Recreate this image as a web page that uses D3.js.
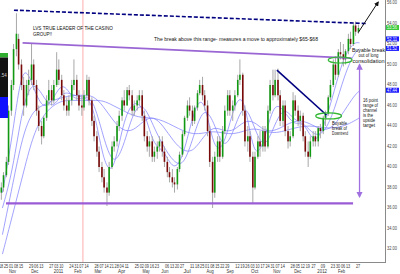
<!DOCTYPE html>
<html>
<head>
<meta charset="utf-8">
<script src="https://cdn.jsdelivr.net/npm/d3@7"></script>
<style>
body { margin: 0; background: #fff; }
svg { display: block; font-family: "Liberation Sans", Arial, sans-serif; }
</style>
</head>
<body>
<script>
// ---- data ----
var startMonday = "2010-10-18";
var endDate = "2012-02-27";

// two candles per week (Mon-Wed, Thu-Fri): open, high, low, close
var candles = [
  [37.5,38.5,36.8,38.0],[38.0,39.5,37.6,39.2],
  [39.2,41,39,40.5],[40.5,46,40.2,45.5],
  [45.5,48.5,45,48],[48,52,47.5,51.5],
  [51.5,55,50.8,53],[52.5,53,49.5,50],
  [50,50.5,47.5,48],[48,48.8,45,46],
  [46,48.5,45.8,48],[48,49.5,47,48.5],
  [48.5,52,48,50],[50,50.5,47.5,48],
  [48,48.5,45,45.5],[45.5,46,43.5,44],
  [44,44.5,42.2,43],[43,45,42.8,44.8],
  [44.8,47,44.5,46.5],[46.5,48.5,46,47.5],
  [47.5,48,46,46.5],[46.5,48.5,46.2,48],
  [48,51.2,47.8,49.5],[49.5,50.5,48,48.5],
  [48.5,49,46.5,47],[47,47.5,45.5,46],
  [46,46.8,45,45.5],[45.5,47,45,46.5],
  [46.5,48.5,46,48],[48,50.5,47.5,48.5],
  [48.5,49,46.5,47],[47,47.5,45.5,46],
  [46,47,45,45.8],[45.8,47.5,45.5,47],
  [47,49,46.8,48.5],[48.5,48.8,46,46.5],
  [46.5,46.8,44,44.5],[44.5,45,42.5,43],
  [43,43.5,41,41.5],[41.5,42,39.5,40],
  [40,40.5,38.5,39],[39,39.8,37.5,38],
  [38,38.5,36.2,37.5],[37.5,40.5,37.2,40],
  [40,42.5,39.8,42],[42,43,41.5,42.5],
  [42.5,44.5,42,44],[44,45.5,43.5,45],
  [45,46.8,44.5,46.5],[46.5,47.5,45.5,46],
  [46,47.8,46,47.5],[47.5,48,46.5,47],
  [47,47.5,45,45.5],[45.5,46.5,45,46],
  [46,47,45.5,46.5],[46.5,47.5,46,47],
  [47,47.5,44.5,45],[45,45.5,42.5,43],
  [43,43.5,41.5,42],[42,43,41,42.5],
  [42.5,43,40.5,41],[41,42,40.5,41.5],
  [41.5,42.5,40.8,42],[42,43,41.5,42.5],
  [42.5,43,41,41.5],[41.5,42,40,40.5],
  [40.5,41,39,39.5],[39.5,40,38.5,39],
  [39,39.8,38,38.5],[38.5,39,37.5,38.3],
  [38.3,40,37.8,39.8],[39.8,41.5,39.5,41.2],
  [41.2,43.5,41,43.2],[43.2,45,43,44.8],
  [44.8,46.5,44.5,46],[46,46.8,45,45.5],
  [45.5,46,44,44.5],[44.5,46,44.2,45.8],
  [45.8,47.5,45.5,47.2],[47.2,48.5,47,48],
  [48,48.8,46.5,47],[47,47.5,45.5,46],
  [46,46.5,43,43.5],[43.5,44,40,40.5],
  [40.5,41,36,37.5],[37.5,41.5,37,41],
  [41,43,40.5,42.5],[42.5,43,40.5,41],
  [41,44,40.8,43.5],[43.5,46,43.2,45.5],
  [45.5,47.5,45,47],[47,47.5,45,45.5],
  [45.5,46.5,44.5,46],[46,47.5,45.5,47],
  [47,49,46.8,48.5],[48.5,50.5,48,49],
  [49,49.2,45,45.5],[45.5,46,42,42.5],
  [42.5,44,41.5,43],[43,43.5,40.5,41],
  [41,41.5,36.5,38],[38,41.5,37.8,41],
  [41,43,40.8,42.5],[42.5,43.5,41,42],
  [42,44,41.5,43.5],[43.5,44,41.5,42],
  [42,46,41.8,45.5],[45.5,48.5,45.2,48],
  [48,49.5,46.5,47],[47,49.5,46.8,48.5],
  [48.5,49.6,46.5,47],[47,47.5,44,44.5],
  [44.5,46.5,44,46],[46,46.5,43,43.5],
  [43.5,44,41.8,42.5],[42.5,43.5,42,43],
  [43,47.3,42.8,46.5],[46.5,47,45,45.5],
  [45.5,46,44,44.5],[44.5,45.5,43.5,45],
  [45,45.3,42.5,43],[43,43.5,41,41.5],
  [41.5,42.5,40,41],[41,43,40.8,42.5],
  [42.5,43.5,42,43],[43,43.5,42,42.5],
  [42.5,44,42,43.8],[43.8,44.2,42.8,43.5],
  [43.5,45,43.2,44.8],[44.8,45.5,44,45.2],
  [45.2,47,45,46.8],[46.8,48.5,46.5,48],
  [48,50.5,47.8,50],[50,50.8,48.5,49],
  [49,51.5,48.8,51.2],[51.2,52.2,50.5,51],
  [51,52,49.8,50.5],[50.5,51.5,50,51.3],
  [51.3,53,51,52.5],[52.5,53.2,51.5,52],
  [52,54,51.8,53.8],[53.8,54.2,52.8,53.2],
  [53.2,53.9,53,53.56]
];

// moving averages, read every two weeks (week index from startMonday)
var maWeeks = d3.range(0, 71, 2).concat([71]);
var maFast = [37.5,43,50.5,48,45.5,46.5,48.5,46.5,46.8,46.5,40.5,39,44.5,46.5,46,42,41.8,39.5,41,45.5,47.3,41.5,41.8,46,47.5,40.5,42.3,46.5,45.5,44,44.5,42,44,47.5,51,52.2,52.11];
var maMid = [36,39.5,46,48.5,47,45.5,47.5,47,46.8,46.8,43,40,41.8,45.5,46.3,44,42,40.5,40,43,46,44.5,41.5,43.5,46.5,44,41.5,44,46,44.5,44.3,43,43.3,45.5,49,51.2,51.52];
var maSlow = [33.4,38.2,43.1,45.5,46,46.5,46.8,47,47,47,46,44.5,43.5,43.5,44.5,45,44,42.5,41.5,41.5,43,44,43.5,43.5,44.5,44.5,43.5,43.5,44,44.5,44.5,44,43.5,44,45.5,47,47.44];
var maLong = [31.5,35.3,39.1,43,45,46,46.5,46.5,46.5,46.5,46.5,46,45.5,45,44.8,44.8,44.5,44,43.5,43.2,43.3,43.5,43.3,43.2,43.5,43.8,43.5,43.3,43.5,43.8,44,44,43.8,43.8,44,44.5,44.8];

var yTicks = [32,34,36,38,40,42,44,46,48,50,52,54,56];

var dayTicks = ["2010-10-18","2010-10-25","2010-11-01","2010-11-08","2010-11-15","2010-11-29","2010-12-06","2010-12-13",
  "2010-12-27","2011-01-03","2011-01-10","2011-01-24","2011-01-31","2011-02-07","2011-02-14","2011-02-28","2011-03-07",
  "2011-03-14","2011-03-21","2011-03-28","2011-04-04","2011-04-11","2011-04-25","2011-05-02","2011-05-09","2011-05-16",
  "2011-05-23","2011-06-06","2011-06-13","2011-06-20","2011-06-27","2011-07-11","2011-07-18","2011-07-25","2011-08-01",
  "2011-08-08","2011-08-15","2011-08-22","2011-08-29","2011-09-12","2011-09-19","2011-09-26","2011-10-03","2011-10-10",
  "2011-10-17","2011-10-24","2011-10-31","2011-11-07","2011-11-14","2011-11-28","2011-12-05","2011-12-12","2011-12-19",
  "2011-12-27","2012-01-09","2012-01-23","2012-01-30","2012-02-06","2012-02-13","2012-02-27"];
var monthTicks = [["2010-11-03","Nov"],["2010-12-04","Dec"],["2011-01-06","2011"],["2011-02-02","Feb"],["2011-03-02","Mar"],
  ["2011-04-04","Apr"],["2011-05-08","May"],["2011-06-03","Jun"],["2011-07-04","Jul"],["2011-08-05","Aug"],["2011-09-02","Sep"],
  ["2011-10-06","Oct"],["2011-11-06","Nov"],["2011-12-05","Dec"],["2012-01-08","2012"],["2012-02-04","Feb"]];

// last values shown in boxes on the right
var lastPrice = 53.56;
var maLabels = [52.11, 51.52, 47.44];

// drawn annotations (date, price)
var dashedTop = [["2010-11-05", 55.3], ["2012-03-09", 54.0]];
var resistance = [["2010-11-17", 52.1], ["2012-02-18", 50.63]];
var support = [["2010-10-25", 36.45], ["2012-02-20", 36.45]];
var downtrend = [["2011-11-06", 49.46], ["2012-01-14", 45.07]];
var breakPoints = [["2012-01-17", 44.98], ["2012-02-02", 50.44]];
var targetArrow = [["2012-02-27", 53.1], ["2012-03-26", 56.1]];
var rangeArrow = [["2012-02-29", 50.0], ["2012-02-29", 37.1]];
var markerDate = "2011-02-09";

// ---- chart ----
var width = 400, height = 274;
var plotRight = 385, plotBottom = 262;
var parseDate = d3.timeParse("%Y-%m-%d");
var start = parseDate(startMonday);

var x = d3.scaleTime().domain([start, parseDate(endDate)]).range([1, 358.1]);
var y = d3.scaleLinear().domain([32, 56]).range([249, 3]);

function weekDate(w, days) {
  return d3.timeHour.offset(start, Math.round((w * 7 + days) * 24));
}

var data = candles.map(function (c, i) {
  return {date: weekDate(Math.floor(i / 2), i % 2 ? 3.5 : 0.5), o: c[0], h: c[1], l: c[2], c: c[3]};
});

var svg = d3.select("body").append("svg")
  .attr("width", width)
  .attr("height", height);

svg.append("rect").attr("width", width).attr("height", height).attr("fill", "#fff");

var defs = svg.append("defs");
defs.append("clipPath").attr("id", "plot")
  .append("rect").attr("width", plotRight).attr("height", plotBottom);

function marker(id, color) {
  defs.append("marker").attr("id", id)
    .attr("viewBox", "0 0 10 10").attr("refX", 8).attr("refY", 5)
    .attr("markerWidth", 5).attr("markerHeight", 5)
    .attr("orient", "auto-start-reverse")
    .append("path").attr("d", "M0,0L10,5L0,10z").attr("fill", color);
}
marker("arrBlack", "#111");
marker("arrPurple", "#a070e0");

var plot = svg.append("g").attr("clip-path", "url(#plot)");

// pink date marker
plot.append("line")
  .attr("x1", x(parseDate(markerDate))).attr("x2", x(parseDate(markerDate)))
  .attr("y1", 0).attr("y2", plotBottom)
  .attr("stroke", "#ffadad").attr("stroke-width", 1);

// moving averages
var maLine = d3.line()
  .x(function (d) { return x(weekDate(d[0], 2)); })
  .y(function (d) { return y(d[1]); })
  .curve(d3.curveBasis);

[maFast, maMid, maSlow, maLong].forEach(function (s) {
  plot.append("path")
    .datum(maWeeks.map(function (w, i) { return [w, s[i]]; }))
    .attr("d", maLine)
    .attr("fill", "none")
    .attr("stroke", "#7f7fff")
    .attr("stroke-width", 0.8)
    .attr("opacity", 0.9);
});

// candles
var cg = plot.selectAll(".candle").data(data).enter().append("g").attr("class", "candle");
cg.append("line")
  .attr("x1", function (d) { return x(d.date); })
  .attr("x2", function (d) { return x(d.date); })
  .attr("y1", function (d) { return y(d.h); })
  .attr("y2", function (d) { return y(d.l); })
  .attr("stroke", "#a8a8a8").attr("stroke-width", 1);
cg.append("rect")
  .attr("x", function (d) { return x(d.date) - 0.8; })
  .attr("width", 1.6)
  .attr("y", function (d) { return y(Math.max(d.o, d.c)); })
  .attr("height", function (d) { return Math.max(1, Math.abs(y(d.o) - y(d.c))); })
  .attr("fill", function (d) { return d.c >= d.o ? "#119911" : "#7a0a0a"; });

// trend lines
function seg(pts, color, w, dash) {
  return plot.append("line")
    .attr("x1", x(parseDate(pts[0][0]))).attr("y1", y(pts[0][1]))
    .attr("x2", x(parseDate(pts[1][0]))).attr("y2", y(pts[1][1]))
    .attr("stroke", color).attr("stroke-width", w)
    .attr("stroke-dasharray", dash || null);
}
seg(dashedTop, "#000080", 1.6, "4,2");
seg(resistance, "#9a66d4", 1.8);
seg(support, "#9a5cd6", 2.2);
seg(downtrend, "#000080", 1.6);

plot.selectAll(".brk").data(breakPoints).enter().append("ellipse")
  .attr("cx", function (d) { return x(parseDate(d[0])); })
  .attr("cy", function (d) { return y(d[1]); })
  .attr("rx", function (d, i) { return i ? 12 : 13; })
  .attr("ry", 3)
  .attr("fill", "none").attr("stroke", "#33b833").attr("stroke-width", 1.2);

plot.append("line")
  .attr("x1", x(parseDate(rangeArrow[0][0]))).attr("y1", y(rangeArrow[0][1]))
  .attr("x2", x(parseDate(rangeArrow[1][0]))).attr("y2", y(rangeArrow[1][1]))
  .attr("stroke", "#a070e0").attr("stroke-width", 1.3)
  .attr("marker-start", "url(#arrPurple)").attr("marker-end", "url(#arrPurple)");

// axes frame
svg.append("line").attr("x1", 0).attr("x2", plotRight).attr("y1", plotBottom + 0.5).attr("y2", plotBottom + 0.5)
  .attr("stroke", "#8a8a8a");
svg.append("line").attr("x1", plotRight + 0.5).attr("x2", plotRight + 0.5).attr("y1", 0).attr("y2", plotBottom + 1)
  .attr("stroke", "#8a8a8a");

// value boxes on the right (stacked upward so they do not collide)
var boxes = [{v: lastPrice, bg: "#3cc83c", fg: "#eaffea"}].concat(maLabels.map(function (v) {
  return {v: v, bg: "#1a1aff", fg: "#fff"};
}));
boxes.forEach(function (b) { b.cy = y(b.v) - 0.5; });
for (var i = boxes.length - 2; i >= 0; i--) {
  boxes[i].cy = Math.min(boxes[i].cy, boxes[i + 1].cy - 9.5);
}

// y labels (those hidden behind a value box are left out, as in the original)
var shownTicks = yTicks.filter(function (t) {
  return !boxes.some(function (b) { return Math.abs(y(t) - 0.5 - b.cy) < 4; });
});
svg.selectAll(".yl").data(shownTicks).enter().append("text")
  .attr("x", 387).attr("y", function (d) { return y(d) + 1.2; })
  .attr("font-size", 5).attr("fill", "#444")
  .attr("textLength", 10).attr("lengthAdjust", "spacingAndGlyphs")
  .text(function (d) { return d.toFixed(2); });

var bx = svg.selectAll(".vb").data(boxes).enter().append("g");
bx.append("rect").attr("x", 386).attr("width", 13)
  .attr("y", function (d) { return d.cy - 2.5; }).attr("height", 5)
  .attr("fill", function (d) { return d.bg; });
bx.append("text").attr("x", 387).attr("y", function (d) { return d.cy + 1.7; })
  .attr("font-size", 4.8).attr("fill", function (d) { return d.fg; })
  .attr("textLength", 10).attr("lengthAdjust", "spacingAndGlyphs")
  .text(function (d) { return d.v.toFixed(2); });

// x labels
svg.selectAll(".xd").data(dayTicks).enter().append("text")
  .attr("x", function (d) { return x(parseDate(d)); })
  .attr("y", 267.5).attr("text-anchor", "middle")
  .attr("font-size", 5).attr("fill", "#333")
  .attr("textLength", 4.2).attr("lengthAdjust", "spacingAndGlyphs")
  .text(function (d) { return d.slice(8); });
svg.selectAll(".xm").data(monthTicks).enter().append("text")
  .attr("x", function (d) { return x(parseDate(d[0])); })
  .attr("y", 273).attr("text-anchor", "middle")
  .attr("font-size", 5).attr("fill", "#333")
  .attr("textLength", function (d) { return d[1].length * 2.4; })
  .attr("lengthAdjust", "spacingAndGlyphs")
  .text(function (d) { return d[1]; });

// left-side label boxes (cut off by the window edge)
svg.append("rect").attr("x", 0).attr("y", 53).attr("width", 8).attr("height", 4.5).attr("fill", "#2fae2f");
svg.append("rect").attr("x", 0).attr("y", 57.5).attr("width", 8).attr("height", 39.5).attr("fill", "#111");
svg.append("rect").attr("x", 0).attr("y", 97).attr("width", 8).attr("height", 21).attr("fill", "#1010ff");
svg.append("text").attr("x", 0.5).attr("y", 77).attr("font-size", 4.5).attr("fill", "#ccc").text(".54");

// black target arrow
svg.append("line")
  .attr("x1", x(parseDate(targetArrow[0][0]))).attr("y1", y(targetArrow[0][1]))
  .attr("x2", x(parseDate(targetArrow[1][0]))).attr("y2", y(targetArrow[1][1]))
  .attr("stroke", "#111").attr("stroke-width", 1)
  .attr("marker-end", "url(#arrBlack)");

// annotation text
function note(lines, x0, y0, dy, anchor) {
  lines.forEach(function (l, i) {
    svg.append("text")
      .attr("x", x0).attr("y", y0 + i * dy)
      .attr("font-size", 5.6).attr("fill", "#111")
      .attr("text-anchor", anchor || "start")
      .attr("textLength", l[1]).attr("lengthAdjust", "spacingAndGlyphs")
      .text(l[0]);
  });
}
note([["LVS TRUE LEADER OF THE CASINO", 80], ["GROUP!!", 19]], 33, 30, 6);
note([["The break above this range- measures a move to approximately $65-$68", 164]], 154, 41, 0);
note([["Buyable break", 33], ["out of long", 20], ["consolidation", 32]], 368.5, 51.5, 5.8, "middle");
note([["Buyable", 15], ["break of", 15], ["Downtrend", 16]], 332, 125, 5, "start");
note([["16 point", 15], ["range of", 15], ["channel", 14], ["is the", 10], ["upside", 12], ["target", 12]], 363, 102, 4.9, "start");
</script>
</body>
</html>
